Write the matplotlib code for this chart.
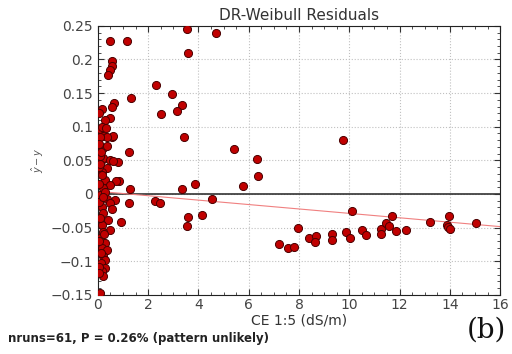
import numpy as np
import matplotlib
matplotlib.use("Agg")
import matplotlib.pyplot as plt
from matplotlib.ticker import AutoMinorLocator

# CE 1:5 (dS/m) and residuals (predicted - observed)
ce = [
    # low-salinity samples
    0.48, 1.17, 0.55, 0.55, 0.48, 0.41, 1.34, 0.66, 0.55, 0.15, 0.48, 0.28,
    0.08, 0.55, 0.21, 0.15, 0.21, 0.61, 0.35, 0.08, 0.21, 1.25, 0.21, 0.48,
    0.81, 0.61, 0.08, 0.35, 0.15, 0.28, 0.85, 0.74, 0.48, 1.30, 0.21, 0.08,
    0.68, 0.35, 1.25, 0.48, 0.15, 0.55, 0.21, 0.41, 0.94, 0.15, 0.48, 0.21,
    0.08, 0.28, 0.15, 0.35, 0.19, 0.28, 0.11, 0.28, 0.15, 0.21, 0.08, 0.05,
    0.05, 0.12, 0.30, 0.10, 0.05, 0.25, 0.12, 0.05, 0.32, 0.06, 0.18, 0.04,
    0.10, 0.38, 0.06, 0.22, 0.05,
    # mid-range samples
    3.53, 4.71, 3.60, 2.30, 2.94, 3.36, 3.15, 2.51, 3.41, 5.42, 6.32, 6.36,
    3.88, 3.35, 5.76, 2.28, 2.48, 4.53, 3.57, 4.14, 3.55, 9.76,
    # high-salinity samples
    7.22, 7.56, 7.80, 7.97, 8.39, 8.69, 8.62, 9.32, 9.32, 9.88, 10.01, 10.12,
    10.52, 10.68, 11.24, 11.24, 11.45, 11.58, 11.71, 11.87, 12.27, 13.20,
    13.97, 13.89, 13.93, 14.00, 15.03,
]
resid = [
    0.227, 0.227, 0.197, 0.191, 0.185, 0.177, 0.143, 0.136, 0.129, 0.126, 0.113, 0.110,
    0.096, 0.085, 0.086, 0.099, 0.069, 0.086, 0.084, 0.084, 0.052, 0.062, 0.054, 0.051,
    0.047, 0.049, 0.056, 0.039, 0.032, 0.021, 0.019, 0.019, 0.013, 0.007, 0.009, -0.001,
    -0.009, -0.007, -0.013, -0.013, -0.019, -0.023, -0.029, -0.039, -0.041, -0.046, -0.053, -0.056,
    -0.065, -0.073, -0.080, -0.083, -0.092, -0.098, -0.103, -0.110, -0.115, -0.122, -0.147, 0.075,
    0.040, 0.062, 0.003, -0.035, 0.015, -0.060, -0.088, -0.108, 0.098, -0.118, 0.028, -0.012,
    0.044, 0.071, -0.070, -0.004, 0.121,
    0.245, 0.240, 0.209, 0.162, 0.149, 0.133, 0.123, 0.119, 0.085, 0.067, 0.052, 0.027,
    0.015, 0.008, 0.012, -0.010, -0.014, -0.008, -0.034, -0.031, -0.047, 0.081,
    -0.074, -0.080, -0.079, -0.050, -0.066, -0.063, -0.072, -0.060, -0.068, -0.057, -0.065, -0.026,
    -0.054, -0.061, -0.052, -0.060, -0.043, -0.047, -0.032, -0.055, -0.054, -0.042,
    -0.032, -0.046, -0.049, -0.052, -0.043,
]

# trend fitted through the residuals
trend_x = [0, 16]
trend_y = [0.004, -0.0485]

fig = plt.figure(figsize=(5.12, 3.54), dpi=100)
ax = fig.add_axes([0.191, 0.167, 0.786, 0.760])

ax.grid(True, color="#c0c0c0", linestyle=":", linewidth=0.8)
ax.axhline(0, color="#333333", linewidth=1.2, zorder=2)
ax.plot(trend_x, trend_y, color="#f08080", linewidth=0.8, zorder=2)
ax.scatter(ce, resid, s=34, color="#c00000", edgecolors="#4a0000",
           linewidths=0.7, zorder=3)

ax.set_xlim(0, 16)
ax.set_ylim(-0.15, 0.25)
ax.set_xticks(np.arange(0, 17, 2))
ax.set_yticks([-0.15, -0.1, -0.05, 0, 0.05, 0.1, 0.15, 0.2, 0.25])
ax.set_yticklabels(["\u22120.15", "\u22120.1", "\u22120.05", "0", "0.05",
                    "0.1", "0.15", "0.2", "0.25"])
ax.xaxis.set_minor_locator(AutoMinorLocator(4))
ax.yaxis.set_minor_locator(AutoMinorLocator(5))
ax.tick_params(which="both", direction="in", top=True, right=True,
               labelsize=10, colors="#333333", labelcolor="#444444")
ax.tick_params(which="major", length=4)
ax.tick_params(which="minor", length=2)
ax.tick_params(axis="x", pad=2)
for sp in ax.spines.values():
    sp.set_color("#222222")

ax.set_title("DR-Weibull Residuals", fontsize=11, color="#333333", pad=4)
ax.set_xlabel("CE 1:5 (dS/m)", fontsize=10, color="#333333", labelpad=1)
ax.set_ylabel(r"$\hat{y} - y$", fontsize=7, color="#555555", labelpad=3)

fig.text(0.015, 0.035, "nruns=61, P = 0.26% (pattern unlikely)",
         fontsize=8.5, fontweight="bold", color="#222222")
fig.text(0.912, 0.045, "(b)", fontsize=20, family="DejaVu Serif", color="#111111")

fig.savefig("out.png", dpi=100)
